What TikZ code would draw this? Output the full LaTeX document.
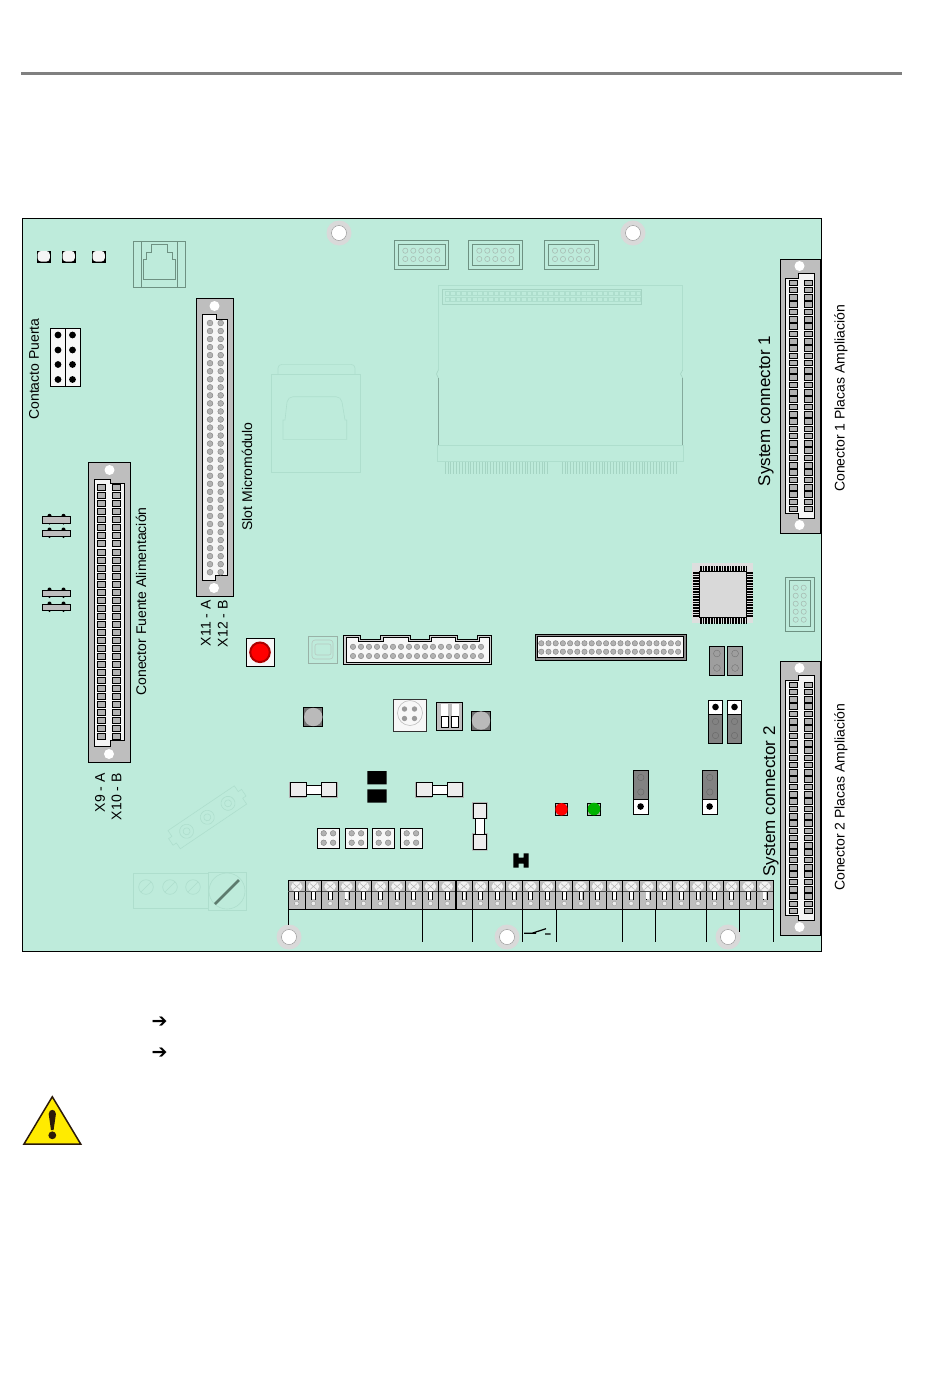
\documentclass[tikz,border=0pt]{standalone}
\usepackage{fontspec}
\setmainfont{Liberation Sans}
\newfontfamily\symfont{DejaVu Sans Bold}
\definecolor{pcbgreen}{RGB}{190,235,219}
\definecolor{rulegray}{RGB}{128,128,128}
\definecolor{bodygray}{RGB}{190,190,190}
\definecolor{padgray}{RGB}{178,178,178}
\definecolor{darkjump}{RGB}{130,130,130}
\definecolor{faintgreen}{RGB}{165,212,195}
\definecolor{palegreen}{RGB}{174,222,205}
\definecolor{softgreen}{RGB}{110,145,130}
\definecolor{warnyellow}{RGB}{255,235,0}
\definecolor{warnbrown}{RGB}{43,26,10}
\tikzset{
	every path/.style={line width=0.8pt},
	pcbboard/.style={draw=black,fill=pcbgreen},
	standoff/.style={fill=black!15},
	standhole/.style={draw=black!45,line width=0.4pt,fill=white},
	dinbody/.style={draw=black,line width=1pt,fill=bodygray},
	dinslot/.style={draw=black,line width=0.8pt,fill=black!4},
	dinhole/.style={fill=white},
	dinpad/.style={draw=black,line width=0.7pt,fill=padgray},
	roundpad/.style={draw=black!50,line width=0.4pt,fill=padgray},
	softline/.style={draw=softgreen},
	faintline/.style={draw=faintgreen,line width=0.6pt},
	paleline/.style={draw=palegreen,line width=0.6pt},
	whitebox/.style={draw=black,line width=0.9pt,fill=black!3},
	jumpbox/.style={draw=black,line width=0.9pt,fill=darkjump},
	jumplight/.style={draw=black,line width=0.9pt,fill=black!38},
	fusecap/.style={draw=black,line width=0.8pt,fill=black!7},
	fusemid/.style={draw=black,line width=0.8pt,fill=white},
	blackdot/.style={fill=black},
	vertlabel/.style={rotate=90,inner sep=0pt,font=\fontsize{14}{14}\selectfont,text=black},
	biglabel/.style={rotate=90,inner sep=0pt,font=\fontsize{17}{17}\selectfont,text=black},
	arrowmark/.style={inner sep=0pt,font=\symfont\fontsize{19}{19}\selectfont},
}

\begin{document}
\begin{tikzpicture}[x=1pt,y=-1pt]
	\useasboundingbox (0,0) rectangle (950,1387);

	\fill[rulegray] (21,71.5) rectangle (902,75);
	\draw[pcbboard] (22.5,218) rectangle (821.7,951);

	% standoffs
	\foreach \x/\y in {339/233,633/233,289/937,507/937,728/937} {
		\fill[standoff] (\x,\y) circle (12.5);
		\draw[standhole] (\x,\y) circle (7.5);
	}

	% top left leds and jack
	\foreach \x in {44,69,99} {
		\fill[black] (\x-6.8,250.5) rectangle (\x+6.8,262.5);
		\fill[black!4,rounded corners=3.5pt] (\x-6.4,250.9) rectangle (\x+5.8,261.6);
	}
	\draw[softline] (133.3,241) rectangle (185.7,287);
	\draw[softline] (141,241) -- (141,287) (177,241) -- (177,287);
	\draw[softline] (143.3,279.3) -- (175.7,279.3) -- (175.7,259.3) -- (172.3,259.3) -- (172.3,252.3) -- (167.3,252.3) -- (167.3,244.3) -- (151,244.3) -- (151,252.3) -- (146.7,252.3) -- (146.7,259.3) -- (143.3,259.3) -- cycle;

	% door contact header
	\draw[whitebox] (50.3,328) rectangle (65.7,386);
	\draw[whitebox] (65.7,328) rectangle (80.7,386);
	\foreach \y in {335,350,364.5,379.5} {
		\fill[blackdot] (58,\y) circle (3.4);
		\fill[blackdot] (72.5,\y) circle (3.4);
	}

	% small capacitors
	\foreach \y in {516.3,530,590,604} {
		\fill[black] (49.5,\y-0.5) circle (2) (63.5,\y-0.5) circle (2) (49.5,\y+7) circle (1.2) (63.5,\y+7) circle (1.2);
		\draw[dinbody,line width=0.9pt] (42.5,\y) rectangle (70.7,\y+6.7);
	}

	% power connector
	\draw[dinbody] (88.6,462.3) rectangle (130.3,762.3);
	\fill[dinhole] (109.5,470) circle (5) (109,754) circle (5);
	\draw[dinslot] (94.2,479.3) -- (110.5,479.3) -- (110.5,483.3) -- (124.7,483.3) -- (124.7,740.7) -- (110.5,740.7) -- (110.5,746) -- (94.2,746) -- cycle;
	\foreach \i [evaluate=\i as \y using 487.7+8.02*\i] in {0,...,31} {
		\draw[dinpad] (97.6,\y-3) rectangle (105.6,\y+3);
		\draw[dinpad] (112.6,\y-3) rectangle (120.6,\y+3);
	}

	% micromodule connector
	\draw[dinbody] (196.6,298.3) rectangle (233.2,596);
	\fill[dinhole] (214.5,306) circle (5) (214,588) circle (5);
	\draw[dinslot] (202,314) -- (216.7,314) -- (216.7,319) -- (227,319) -- (227,575) -- (215.7,575) -- (215.7,580) -- (202,580) -- cycle;
	\foreach \i [evaluate=\i as \y using 323+8.04*\i] in {0,...,31} {
		\draw[roundpad] (210,\y) circle (2.9);
		\draw[roundpad] (220.7,\y) circle (2.9);
	}

	% faint usb socket
	\draw[paleline] (271.7,374) rectangle (360.7,472.7);
	\draw[paleline] (278,374) -- (278,368) to[out=90,in=180] (282,364.3) -- (351,364.3) to[out=0,in=90] (355,368) -- (355,374);
	\draw[paleline] (283,439.3) -- (283,420) -- (285,420) -- (287,402) to[out=80,in=180] (293,396.7) -- (336,396.7) to[out=0,in=100] (342,402) -- (345,420) -- (346.7,420) -- (346.7,439.3) -- cycle;

	% three top headers
	\foreach \x in {394.3,468.3,544} {
		\draw[softline] (\x,240.7) rectangle (\x+54.4,269.3);
		\draw[softline] (\x+4,244.7) rectangle (\x+50.7,265.3);
		\foreach \j in {0,...,4} {
			\draw[faintline,draw=softgreen!60] (\x+11+8*\j,250.7) circle (2.6);
			\draw[faintline,draw=softgreen!60] (\x+11+8*\j,259) circle (2.6);
		}
	}

	% module slot
	\draw[paleline] (438.3,370) -- (438.3,285.3) -- (682.7,285.3) -- (682.7,370);
	\draw[draw=faintgreen!80!black,line width=0.8pt] (438.3,378) -- (438.3,445) (682.7,378) -- (682.7,445);
	\draw[faintline] (438.3,370) -- (436.5,374) -- (438.3,378) (682.7,370) -- (680.5,374) -- (682.7,378);
	\draw[paleline] (437,445) rectangle (683,461.7);
	\draw[faintline] (442.3,289) rectangle (641.7,304);
	\foreach \i [evaluate=\i as \x using 445+5.45*\i] in {0,...,35} {
		\draw[paleline,line width=0.5pt] (\x,291.5) rectangle (\x+4.5,295.5);
		\draw[paleline,line width=0.5pt] (\x,297) rectangle (\x+4.5,301);
	}
	\foreach \i [evaluate=\i as \x using 445+2.85*\i] in {0,...,36} {
		\draw[faintline] (\x,462) -- (\x,474);
	}
	\foreach \i [evaluate=\i as \x using 562+2.85*\i] in {0,...,40} {
		\draw[faintline] (\x,462) -- (\x,474);
	}

	% expansion connectors
	\foreach \dy in {0,402} {
		\draw[dinbody] (780,259.3+\dy) rectangle (820,533.3+\dy);
		\fill[dinhole] (799.5,266+\dy) circle (5) (799.5,525+\dy) circle (5);
		\draw[dinslot] (785.3,278+\dy) -- (798.3,278+\dy) -- (798.3,273.3+\dy) -- (814,273.3+\dy) -- (814,518.3+\dy) -- (798.3,518.3+\dy) -- (798.3,513.3+\dy) -- (785.3,513.3+\dy) -- cycle;
		\foreach \i [evaluate=\i as \y using 282.7+\dy+7.3*\i] in {0,...,31} {
			\draw[dinpad] (789,\y-2.8) rectangle (797.7,\y+2.8);
			\draw[dinpad] (804,\y-2.8) rectangle (812.7,\y+2.8);
		}
	}

	% cpu
	\fill[black!13] (692.3,563.3) rectangle (752.7,623.3);
	\draw[line width=6pt,dash pattern=on 1.7pt off 1pt] (700,568.5) -- (746,568.5) (700,620.8) -- (746,620.8) (696.2,572) -- (696.2,617) (749.8,572) -- (749.8,617);
	\draw[draw=black,line width=1pt,fill=black!15] (699.3,571.7) rectangle (746.7,617.7);
	\draw[softline] (785.3,577.3) rectangle (814.7,631.3);
	\draw[softline] (789.3,580.7) rectangle (810.7,626.7);
	\foreach \y in {587.7,595.7,603.7,611.7,619.7} {
		\draw[faintline,draw=softgreen!60] (795.7,\y) circle (2.6);
		\draw[faintline,draw=softgreen!60] (803.7,\y) circle (2.6);
	}

	% jumpers right
	\foreach \x in {709.3,727.5} {
		\draw[jumplight] (\x,646.7) rectangle (\x+15.2,675.3);
		\draw[draw=black!55,line width=0.4pt] (\x+7.6,653.5) circle (3.4) (\x+7.6,668) circle (3.4);
	}
	\foreach \x in {708.3,727.3} {
		\draw[jumpbox] (\x,700.3) rectangle (\x+14.5,743.3);
		\draw[whitebox,fill=white] (\x,700.3) rectangle (\x+14.5,714.3);
		\fill[blackdot] (\x+7.2,707) circle (3.3);
		\draw[draw=black!60,line width=0.4pt] (\x+7.2,721.5) circle (3.2) (\x+7.2,735.5) circle (3.2);
	}
	\foreach \x in {633.3,702.3} {
		\draw[jumpbox] (\x,770.3) rectangle (\x+15.3,814.3);
		\draw[whitebox,fill=white] (\x,799.3) rectangle (\x+15.3,814.3);
		\fill[blackdot] (\x+7.3,806.5) circle (3.3);
		\draw[draw=black!60,line width=0.4pt] (\x+7.5,777.5) circle (3.2) (\x+7.5,792) circle (3.2);
	}

	% middle row
	\draw[whitebox] (246,638.3) rectangle (274.7,666.7);
	\draw[draw=red!68!black,line width=2pt,fill=red] (260,652.3) circle (9.8);
	\draw[softline,draw=softgreen!70] (308,636) rectangle (337.7,663.3);
	\draw[faintline,draw=softgreen!50,rounded corners=3pt] (312,640) rectangle (333,659);
	\draw[faintline,draw=softgreen!50,rounded corners=2pt] (315,644) rectangle (331,655);

	\draw[draw=black,line width=1pt,fill=bodygray!70] (343.3,635) -- (360,635) -- (360,639) -- (380.7,639) -- (380.7,635) -- (410,635) -- (410,639) -- (429,639) -- (429,635) -- (457.3,635) -- (457.3,639) -- (477.3,639) -- (477.3,635) -- (491.7,635) -- (491.7,664.3) -- (343.3,664.3) -- cycle;
	\draw[draw=black,line width=0.8pt,fill=black!3] (346,637.2) -- (358,637.2) -- (358,641.5) -- (383,641.5) -- (383,637.2) -- (408,637.2) -- (408,641.5) -- (431,641.5) -- (431,637.2) -- (455,637.2) -- (455,641.5) -- (479.5,641.5) -- (479.5,637.2) -- (489,637.2) -- (489,662) -- (346,662) -- cycle;
	\foreach \i [evaluate=\i as \x using 353+8*\i] in {0,...,16} {
		\draw[roundpad] (\x,646.8) circle (2.7);
		\draw[roundpad] (\x,656) circle (2.7);
	}

	\draw[draw=black,line width=1pt,fill=black!45] (535,634.3) rectangle (686,660);
	\draw[draw=black,line width=0.8pt,fill=black!3] (537.5,636.8) rectangle (683.5,657.5);
	\foreach \i [evaluate=\i as \x using 541.3+7.2*\i] in {0,...,19} {
		\draw[roundpad] (\x,643.3) circle (2.7);
		\draw[roundpad] (\x,651.7) circle (2.7);
	}

	% push buttons and switches
	\foreach \x/\y in {313.3/717,481/720.5} {
		\draw[draw=black,line width=0.9pt,fill=black!55] (\x-9.5,\y-9.5) rectangle (\x+9.5,\y+9.5);
		\fill[black!27] (\x,\y) circle (9.2);
	}
	\draw[whitebox,draw=black!80] (393.3,699.3) rectangle (426.7,731.7);
	\draw[draw=black!25,line width=0.6pt] (410,713) circle (12.5);
	\foreach \x/\y in {404.5/709,414.5/709,404.5/718.5,414.5/718.5} {
		\fill[black!40] (\x,\y) circle (2.7);
	}
	\draw[draw=black,line width=0.8pt,fill=black!25] (436.3,702.3) rectangle (462.7,730.7);
	\foreach \x in {441,451.5} {
		\fill[white] (\x,704) rectangle (\x+7,727.5);
		\draw[draw=black,line width=0.7pt,fill=white] (\x,716.7) rectangle (\x+7,727.5);
	}

	% fuses
	\foreach \x in {290,416} {
		\fill[black!30] (\x-1.5,781.5) rectangle (\x+47.5,797.5);
		\fill[pcbgreen] (\x+16,781) rectangle (\x+31,798);
		\draw[fusemid] (\x+16,785.3) rectangle (\x+31,794.3);
		\draw[fusecap] (\x,782.7) rectangle (\x+16,796);
		\draw[fusecap] (\x+31,782.7) rectangle (\x+46.7,796);
	}
	\fill[black!30] (472,802) rectangle (487.5,819) (472,833) rectangle (487.5,850.5);
	\draw[fusemid] (475.3,818) rectangle (484,834);
	\draw[fusecap] (473.3,803.3) rectangle (486,818);
	\draw[fusecap] (473.3,834) rectangle (486,849.3);

	\fill[black] (367.3,771) rectangle (386.7,784.3) (367.3,789.3) rectangle (386.7,802.7);

	\foreach \x in {317.3,345.3,372.3,400.3} {
		\draw[whitebox] (\x,828.7) rectangle (\x+22.4,848.7);
		\foreach \a/\b in {6.4/833.3,15.8/833.3,6.4/842.7,15.8/842.7} {
			\draw[roundpad] (\x+\a,\b) circle (2.8);
		}
	}

	% leds and link
	\draw[draw=black,line width=0.7pt,fill=black!30] (555.3,803) rectangle (567.7,815.7);
	\fill[red] (561.5,809.3) circle (6.2);
	\draw[draw=black,line width=0.7pt,fill=black!30] (587.3,803) rectangle (600.7,815.7);
	\fill[green!70!black] (594,809) circle (6.3);
	\fill[black] (513.3,853.3) -- (518.5,853.3) -- (518.5,857.5) -- (523.5,857.5) -- (523.5,853.3) -- (528.7,853.3) -- (528.7,867.7) -- (523.5,867.7) -- (523.5,863.5) -- (518.5,863.5) -- (518.5,867.7) -- (513.3,867.7) -- cycle;

	% faint rotated terminal
	\begin{scope}[shift={(207.3,817.3)},rotate=34]
		\draw[paleline] (-40,-11) -- (40,-11) -- (40,-4) -- (44,-4) -- (44,4) -- (40,4) -- (40,11) -- (-40,11) -- (-40,4) -- (-44,4) -- (-44,-4) -- (-40,-4) -- cycle;
		\foreach \x in {-25,0,25} {
			\draw[paleline] (\x,0) circle (7);
			\draw[paleline] (\x,0) circle (3.5);
		}
	\end{scope}

	% faint mains terminal
	\draw[paleline] (133,873) rectangle (208,908);
	\foreach \x in {146,170,193} {
		\draw[paleline] (\x,887) circle (7.3);
		\draw[paleline] (\x-5,892) -- (\x+5,882);
	}
	\draw[paleline] (208,872) rectangle (246,910.7);
	\draw[paleline] (227,891) circle (18);
	\draw[draw=softgreen!85!black,line width=2.6pt] (215,904) -- (239,880);

	% terminal strip
	\foreach \i [evaluate=\i as \x using 288.3+16.72*\i] in {0,...,28} {
		\draw[draw=black,line width=0.9pt,fill=bodygray] (\x,880) rectangle (\x+16.72,909);
		\fill[black!5] (\x+8.4,886.5) ellipse (5.8 and 4.8);
		\draw[draw=black!30,line width=0.5pt] (\x+5,883.5) -- (\x+11.8,889.5) (\x+5,889.5) -- (\x+11.8,883.5);
		\draw[draw=black!70,line width=0.5pt] (\x,891.7) -- (\x+16.72,891.7);
		\draw[draw=black,line width=0.6pt] (\x+6.4,892) -- (\x+6.4,900) (\x+10.4,892) -- (\x+10.4,900);
		\fill[white] (\x+7,892) rectangle (\x+9.8,899);
		\draw[draw=black!35,line width=0.5pt,fill=black!8] (\x+8.4,903.5) circle (2.3);
	}
	\draw[line width=1.6pt] (455.8,880) -- (455.8,909);
	\draw[line width=0.9pt] (288.3,909) -- (288.3,925);
	\foreach \x in {422.3,472.6,522.3,556.3,622.3,655.3,706.3,773.3} {
		\draw[line width=0.9pt] (\x,909) -- (\x,941.7);
	}
	\draw[line width=0.9pt] (739.3,909) -- (739.3,932);
	\draw[line width=1.2pt] (524,933.3) -- (536,933.3) (531.7,933.3) -- (546,928.7) (545,934) -- (550.7,934);

	% warning and arrows
	\draw[draw=warnbrown,line width=1.5pt,fill=warnyellow,line join=miter] (52.3,1096.7) -- (80.7,1144) -- (24,1144) -- cycle;
	\fill[warnbrown] (48.7,1114) .. controls (48.7,1108.5) and (55.9,1108.5) .. (55.9,1114) -- (53.6,1130) -- (51,1130) -- cycle;
	\fill[warnbrown] (52.3,1135.3) circle (3.9);

	\node[arrowmark] (arrowone) at (159.5,1022) {➔};
	\node[arrowmark] (arrowtwo) at (159.5,1053) {➔};

	% labels
	\node[vertlabel] (lblpuerta) at (34,369) {Contacto Puerta};
	\node[vertlabel] (lblslot) at (247,476.5) {Slot Micromódulo};
	\node[vertlabel] (lblfuente) at (141,601.5) {Conector Fuente Alimentación};
	\node[vertlabel,anchor=east] (lblxnine) at (100,773) {X9 - A};
	\node[vertlabel,anchor=east] (lblxten) at (116.5,773) {X10 - B};
	\node[vertlabel,anchor=east] (lblxeleven) at (205.7,600) {X11 - A};
	\node[vertlabel,anchor=east] (lblxtwelve) at (222.7,600) {X12 - B};
	\node[biglabel] (lblsysone) at (766,411) {System connector 1};
	\node[biglabel] (lblsystwo) at (771,801.5) {System connector 2};
	\node[vertlabel] (lblconone) at (841,398.5) {Conector 1 Placas Ampliación};
	\node[vertlabel] (lblcontwo) at (841,797.5) {Conector 2 Placas Ampliación};
\end{tikzpicture}
\end{document}
